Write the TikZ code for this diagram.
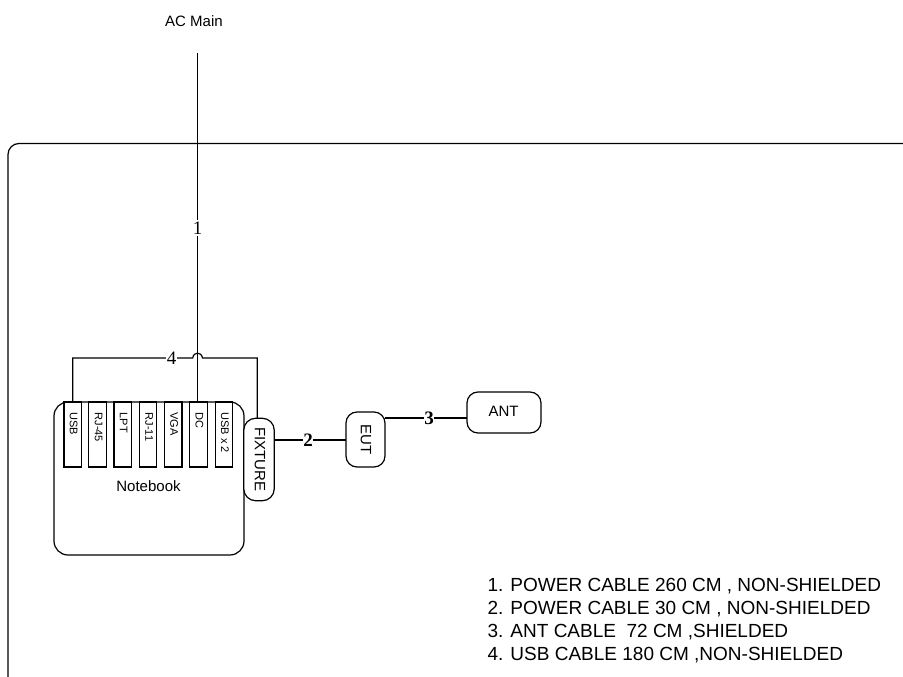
\documentclass[tikz,border=0pt]{standalone}
\usepackage{fontspec}
\setmainfont{Liberation Sans}
\newfontfamily\numfont{Liberation Serif}
\begin{document}
\begin{tikzpicture}[x=1pt,y=-1pt,line width=1.2pt,
  roundbox/.style={draw,rounded corners=#1,inner sep=0pt,outer sep=0pt},
  portbox/.style={draw,fill=white,inner sep=0pt,outer sep=0pt,minimum width=17.5pt,minimum height=65pt},
  porttext/.style={rotate=-90,anchor=west,font=\fontsize{11}{12}\selectfont,inner sep=0pt},
  bodytext/.style={font=\fontsize{15}{17}\selectfont,inner sep=0pt},
  numlabel/.style={fill=white,font=\numfont\fontsize{19}{20}\selectfont,inner sep=0pt},
  numbold/.style={fill=white,font=\numfont\bfseries\fontsize{19}{20}\selectfont,inner sep=0.5pt},
  notetext/.style={font=\fontsize{19}{21}\selectfont,anchor=base west,inner sep=0pt}]
\useasboundingbox (0,0) rectangle (903,677);
% outer frame
\draw[rounded corners=11pt] (903,143.5) -- (8,143.5) -- (8,677);
% AC main
\node[bodytext] (acmain) at (194,21) {AC Main};
\coordinate (acend) at (197.7,53);
% notebook
\node[roundbox=14pt,minimum width=190pt,minimum height=153pt] (notebook) at (149,478.5) {};
\node[portbox] (usb) at (72.7,434.5) {};
\node[portbox] (rj45) at (97.5,434.5) {};
\node[portbox] (lpt) at (122.7,434.5) {};
\node[portbox] (rj11) at (148,434.5) {};
\node[portbox] (vga) at (173.2,434.5) {};
\node[portbox] (dc) at (198.5,434.5) {};
\node[portbox] (usb2) at (224,434.5) {};
\node[porttext] at (73.7,412) {USB};
\node[porttext] at (98.5,412) {RJ-45};
\node[porttext] at (123.7,412) {LPT};
\node[porttext] at (149,412) {RJ-11};
\node[porttext] at (174.2,412) {VGA};
\node[porttext] at (199.5,412) {DC};
\node[porttext] at (225,412) {USB x 2};
\node[bodytext] (nbtext) at (148.5,486.5) {Notebook};
% fixture, EUT, ANT
\node[roundbox=12pt,fill=white,minimum width=30.5pt,minimum height=82.5pt] (fixture) at (259,459.5) {};
\node[rotate=-90,font=\fontsize{15}{17}\selectfont,inner sep=0pt] at (260,459.5) {FIXTURE};
\node[roundbox=11pt,minimum width=39pt,minimum height=55pt] (eut) at (365.5,439.5) {};
\node[rotate=-90,font=\fontsize{15}{17}\selectfont,inner sep=0pt] at (366,439.5) {EUT};
\node[roundbox=11pt,minimum width=74pt,minimum height=41pt] (ant) at (504,412.5) {};
\node[bodytext] at (503.5,411.5) {ANT};
% connectors
\coordinate (fixtop) at (257.3,418);
\draw (acend) -- (dc.north -| acend);
\draw (usb.north) -- (usb.north |- 0,358) -- (192.7,358)
  .. controls (193.5,351.5) and (201.5,351.5) .. (202.5,358)
  -- (fixtop |- 0,358) -- (fixtop);
\draw (fixture.east |- 0,440) -- (eut.west |- 0,440);
\draw (eut.east |- 0,418) -- (ant.west |- 0,418);
\node[numlabel,inner ysep=2pt] at (197.7,228) {1};
\node[numlabel,inner xsep=0.5pt] at (171.6,358) {4};
\node[numbold] at (308,440) {2};
\node[numbold] at (429,418) {3};
% notes
\node[notetext] (n1) at (487,591) {1. POWER CABLE 260 CM , NON-SHIELDED};
\node[notetext] (n2) at (487,614) {2. POWER CABLE 30 CM , NON-SHIELDED};
\node[notetext] (n3) at (487,637) {3. ANT CABLE\ \ 72 CM ,SHIELDED};
\node[notetext] (n4) at (487,660) {4. USB CABLE 180 CM ,NON-SHIELDED};
\end{tikzpicture}
\end{document}
